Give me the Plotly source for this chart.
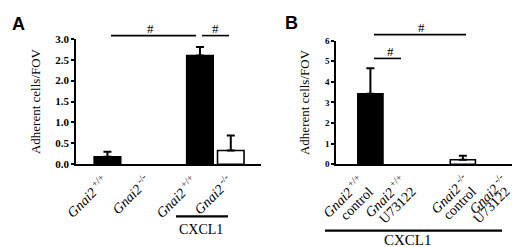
import plotly.graph_objects as go

# panel A
a_labels = ['<i>Gnai2</i><sup> +/+</sup>', '<i>Gnai2</i><sup> -/-</sup>',
            '<i>Gnai2</i><sup> +/+</sup>', '<i>Gnai2</i><sup> -/-</sup>']
a_means = [0.18, 0.0, 2.6, 0.33]
a_err = [0.12, 0.0, 0.2, 0.36]
a_fill = ['black', 'white', 'black', 'white']
a_pos = [0, 1.3, 3, 4]

# panel B
b_line1 = ['<i>Gnai2</i><sup> +/+</sup>', '<i>Gnai2</i><sup> +/+</sup>',
           '<i>Gnai2</i><sup> -/-</sup>', '<i>Gnai2</i><sup> -/-</sup>']
b_line2 = ['control', 'U73122', 'control', 'U73122']
b_means = [3.42, 0.0, 0.22, 0.0]
b_err = [1.24, 0.0, 0.2, 0.0]
b_fill = ['black', 'white', 'white', 'white']
b_pos = [0, 1, 2.5, 3.7]

serif = 'Liberation Serif'
W, H = 520, 247


def px(x):
    return x / W


def py(y):
    return 1 - y / H


fig = go.Figure()


def add_bars(pos, means, errs, fill, width, xa, ya):
    fig.add_trace(go.Bar(
        x=pos, y=means, width=width,
        marker=dict(color=fill, line=dict(color='black', width=[1.6 if v else 0 for v in means])),
        xaxis=xa, yaxis=ya, showlegend=False))
    # error bars only where there is one
    keep = [i for i, e in enumerate(errs) if e > 0]
    fig.add_trace(go.Scatter(
        x=[pos[i] for i in keep], y=[means[i] for i in keep], mode='markers',
        marker=dict(size=1, color='rgba(0,0,0,0)'),
        error_y=dict(type='data', symmetric=False, array=[errs[i] for i in keep],
                     arrayminus=[0] * len(keep), color='black', thickness=2, width=4),
        xaxis=xa, yaxis=ya, showlegend=False, hoverinfo='skip'))


add_bars(a_pos, a_means, a_err, a_fill, 0.86, 'x', 'y')
add_bars(b_pos, b_means, b_err, b_fill, 0.68, 'x2', 'y2')

axis_common = dict(showline=True, linecolor='black', linewidth=1.6, showgrid=False, zeroline=False)

fig.update_layout(
    width=W, height=H, margin=dict(l=0, r=0, t=0, b=0),
    paper_bgcolor='white', plot_bgcolor='white',
    xaxis=dict(domain=[px(68), px(253)], range=[-1.02, 4.98], anchor='y',
               showticklabels=False, ticks='', **axis_common),
    yaxis=dict(domain=[py(158), py(26)], range=[0, 3.0], anchor='x',
               tickvals=[0, 0.5, 1, 1.5, 2, 2.5, 3], tickformat='.1f',
               ticks='outside', ticklen=3, tickwidth=1.6, tickcolor='black',
               tickfont=dict(family=serif, size=11, color='black', weight='bold'),
               title=dict(text='Adherent cells/FOV', font=dict(family=serif, size=13, color='black'),
                          standoff=12),
               **axis_common),
    xaxis2=dict(domain=[px(328), px(517)], range=[-0.93, 4.18], anchor='y2',
                showticklabels=False, ticks='', **axis_common),
    yaxis2=dict(domain=[py(158), py(28)], range=[0, 6], anchor='x2',
                tickvals=[0, 1, 2, 3, 4, 5, 6],
                ticks='outside', ticklen=3, tickwidth=1.6, tickcolor='black',
                tickfont=dict(family=serif, size=9, color='black', weight='bold'),
                title=dict(text='Adherent cells/FOV', font=dict(family=serif, size=13, color='black'),
                           standoff=12),
                **axis_common),
)

# rotated category labels
for p, lab, dx in zip(a_pos, a_labels, [7, 9, 4, 8]):
    fig.add_annotation(text=lab, x=p, y=0, xref='x', yref='y', showarrow=False, textangle=-45,
                       xanchor='right', yanchor='top', xshift=dx, yshift=-4,
                       font=dict(family=serif, size=14, color='black'))

for p, l1, l2, d1, d2 in zip(b_pos, b_line1, b_line2, [0, 5, 12, 6], [9, 14, 19, 8]):
    fig.add_annotation(text=l1, x=p, y=0, xref='x2', yref='y2', showarrow=False, textangle=-45,
                       xanchor='right', yanchor='top', xshift=d1, yshift=-4,
                       font=dict(family=serif, size=14, color='black'))
    fig.add_annotation(text=l2, x=p, y=0, xref='x2', yref='y2', showarrow=False, textangle=-45,
                       xanchor='right', yanchor='top', xshift=d2, yshift=-17,
                       font=dict(family=serif, size=14, color='black'))

# significance bars and CXCL1 brackets (paper coords)
lines = [
    (103, 188, 22.7, 1.6), (194, 221, 22.7, 1.6),
    (366, 458, 21.7, 1.6), (366, 393, 46.7, 1.6),
    (168, 220, 212.7, 2.2), (317, 494, 227.7, 2.2),
]
for x0, x1, y, w in lines:
    fig.add_shape(type='line', xref='paper', yref='paper', x0=px(x0), x1=px(x1), y0=py(y), y1=py(y),
                  line=dict(color='black', width=w))

texts = [
    ('#', 142, 15, 13), ('#', 207, 15, 13), ('#', 413, 14, 13), ('#', 382, 39, 13),
    ('CXCL1', 193, 227, 14), ('CXCL1', 400, 238, 15),
]
for t, x, y, s in texts:
    fig.add_annotation(text=t, x=px(x), y=py(y), xref='paper', yref='paper', showarrow=False,
                       xanchor='center', yanchor='middle', font=dict(family=serif, size=s, color='black'))

for t, x, y in [('A', 10, 10), ('B', 283, 9)]:
    fig.add_annotation(text='<b>%s</b>' % t, x=px(x), y=py(y), xref='paper', yref='paper', showarrow=False,
                       xanchor='center', yanchor='middle',
                       font=dict(family='Liberation Sans', size=18, color='black'))

fig.write_html('out.html')
